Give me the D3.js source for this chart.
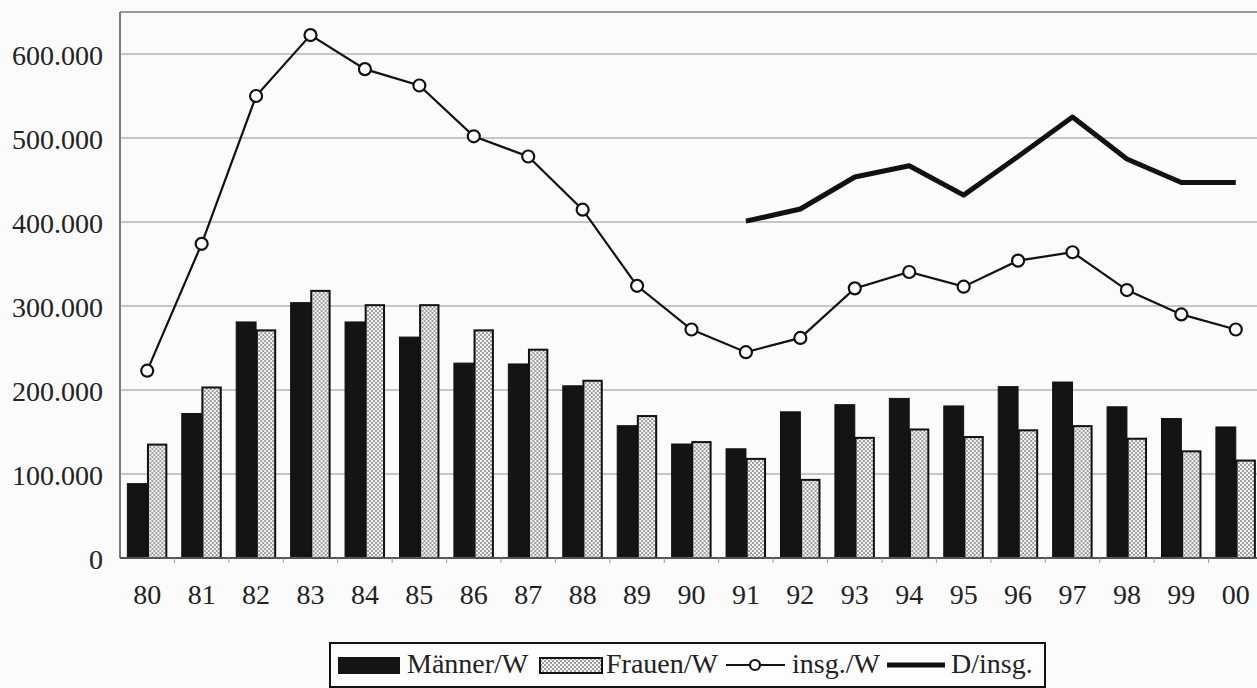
<!DOCTYPE html>
<html>
<head>
<meta charset="utf-8">
<script src="https://cdn.jsdelivr.net/npm/d3@7"></script>
<style>
  html, body { margin: 0; padding: 0; background: #fbfbfb; }
  svg { display: block; }
  text { font-family: "Liberation Serif", "Times New Roman", serif; fill: #222; }
</style>
</head>
<body>
<svg id="chart" width="1257" height="688"></svg>
<script>
const years = ["80","81","82","83","84","85","86","87","88","89","90","91","92","93","94","95","96","97","98","99","00"];
const maenner = [88500,172000,281000,304000,281000,263000,232000,231000,205000,157500,135700,130000,174000,182500,190000,181000,204000,209500,180000,166000,156000];
const frauen  = [135000,203000,271000,318000,301000,301000,271000,248000,211000,169000,138000,118000,93000,143000,153000,144000,152000,157000,142000,127000,116000];
const insgW   = [223000,374000,550000,622500,582000,562500,502000,478000,414700,324000,272000,245000,262000,321000,340500,323000,354000,364000,319000,290000,272000];
const dInsg   = [null,null,null,null,null,null,null,null,null,null,null,401000,415500,453600,467000,432000,478000,525000,475000,447000,447000];
const yTicks  = [0,100000,200000,300000,400000,500000,600000];
const seriesNames = ["Männer/W","Frauen/W","insg./W","D/insg."];

const svg = d3.select("#chart");
const margin = {left: 120, top: 12, right: -6, bottom: 130};
const W = 1257, H = 688;
const x0 = margin.left, x1 = W - margin.right, yTop = margin.top, yBase = 558;

const defs = svg.append("defs");
const pat = defs.append("pattern").attr("id","dots").attr("patternUnits","userSpaceOnUse")
  .attr("width",4).attr("height",4);
pat.append("rect").attr("width",4).attr("height",4).attr("fill","#f4f4f4");
pat.append("circle").attr("cx",1).attr("cy",1).attr("r",0.95).attr("fill","#7a7a7a");
pat.append("circle").attr("cx",3).attr("cy",3).attr("r",0.95).attr("fill","#7a7a7a");

const x = d3.scaleBand().domain(years).range([x0, x1]).paddingInner(0.27).paddingOuter(0.135);
const xs = d3.scaleBand().domain(["m","f"]).range([0, x.bandwidth()]);
const y = d3.scaleLinear().domain([0, 650000]).range([yBase, yTop]);

const loc = d3.formatLocale({decimal: ",", thousands: ".", grouping: [3], currency: ["", " €"]});
const fmt = loc.format(",d");

// gridlines
svg.append("g").selectAll("line").data(yTicks.filter(d => d > 0)).join("line")
  .attr("x1", x0).attr("x2", x1).attr("y1", d => y(d)).attr("y2", d => y(d))
  .attr("stroke", "#b4b4b4").attr("stroke-width", 1.5);
// top border
svg.append("line").attr("x1", x0).attr("x2", x1).attr("y1", yTop).attr("y2", yTop)
  .attr("stroke", "#9a9a9a").attr("stroke-width", 2);

// y axis
const yAxis = svg.append("g").attr("transform", `translate(${x0},0)`)
  .call(d3.axisLeft(y).tickValues(yTicks).tickFormat(fmt).tickSize(0).tickPadding(17));
yAxis.select(".domain").remove();
yAxis.selectAll("text").style("font-size", "28px").attr("dy", "0.36em")
  .style("font-family", "'Liberation Serif', serif").attr("fill", "#2a2a2a");
svg.append("line").attr("x1", x0).attr("x2", x0).attr("y1", yTop).attr("y2", yBase)
  .attr("stroke", "#7a7a7a").attr("stroke-width", 2);

// bars
const groups = svg.append("g").selectAll("g").data(years).join("g")
  .attr("transform", d => `translate(${x(d)},0)`);
groups.append("rect")
  .attr("x", xs("m")).attr("width", xs.bandwidth())
  .attr("y", (d,i) => y(maenner[i])).attr("height", (d,i) => yBase - y(maenner[i]))
  .attr("fill", "#141414").attr("stroke", "#111").attr("stroke-width", 1);
groups.append("rect")
  .attr("x", xs("f") + 0.75).attr("width", xs.bandwidth() - 1.5)
  .attr("y", (d,i) => y(frauen[i])).attr("height", (d,i) => yBase - y(frauen[i]))
  .attr("fill", "url(#dots)").attr("stroke", "#111").attr("stroke-width", 2);

// x axis baseline & ticks
svg.append("line").attr("x1", x0).attr("x2", x1).attr("y1", yBase).attr("y2", yBase)
  .attr("stroke", "#555").attr("stroke-width", 2);
const step = x.step();
svg.append("g").selectAll("line").data(years.slice(1)).join("line")
  .attr("x1", d => x(d) - step * x.paddingInner() / 2).attr("x2", d => x(d) - step * x.paddingInner() / 2)
  .attr("y1", yBase).attr("y2", yBase + 5).attr("stroke", "#999").attr("stroke-width", 1);
const xAxis = svg.append("g").attr("transform", `translate(0,${yBase})`)
  .call(d3.axisBottom(x).tickSize(0).tickPadding(26));
xAxis.select(".domain").remove();
xAxis.selectAll("text").style("font-size", "28px")
  .style("font-family", "'Liberation Serif', serif").attr("fill", "#2a2a2a");

// lines
const cx = i => x(years[i]) + x.bandwidth() / 2;
const lineW = d3.line().x((d,i) => cx(i)).y(d => y(d));
svg.append("path").datum(insgW).attr("d", lineW)
  .attr("fill", "none").attr("stroke", "#111").attr("stroke-width", 2.2);
svg.append("g").selectAll("circle").data(insgW).join("circle")
  .attr("cx", (d,i) => cx(i)).attr("cy", d => y(d)).attr("r", 6)
  .attr("fill", "#fff").attr("stroke", "#111").attr("stroke-width", 2.2);
const lineD = d3.line().defined(d => d !== null).x((d,i) => cx(i)).y(d => y(d));
svg.append("path").datum(dInsg).attr("d", lineD)
  .attr("fill", "none").attr("stroke", "#111").attr("stroke-width", 5).attr("stroke-linejoin", "round");

// legend
const lg = svg.append("g");
lg.append("rect").attr("x", 330).attr("y", 643).attr("width", 715).attr("height", 44)
  .attr("fill", "#fdfdfd").attr("stroke", "#111").attr("stroke-width", 2);
const ty = 673;
lg.append("rect").attr("x", 338).attr("y", 657).attr("width", 62).attr("height", 17).attr("fill", "#141414");
lg.append("text").attr("x", 407).attr("y", ty).text(seriesNames[0]).style("font-size", "28px");
lg.append("rect").attr("x", 540).attr("y", 658).attr("width", 62).attr("height", 15)
  .attr("fill", "url(#dots)").attr("stroke", "#111").attr("stroke-width", 2);
lg.append("text").attr("x", 606).attr("y", ty).text(seriesNames[1]).style("font-size", "28px");
lg.append("line").attr("x1", 726).attr("x2", 785).attr("y1", 665).attr("y2", 665)
  .attr("stroke", "#111").attr("stroke-width", 2.2);
lg.append("circle").attr("cx", 755).attr("cy", 665).attr("r", 5)
  .attr("fill", "#fff").attr("stroke", "#111").attr("stroke-width", 2.2);
lg.append("text").attr("x", 792).attr("y", ty).text(seriesNames[2]).style("font-size", "28px");
lg.append("line").attr("x1", 887).attr("x2", 945).attr("y1", 665).attr("y2", 665)
  .attr("stroke", "#111").attr("stroke-width", 5);
lg.append("text").attr("x", 951).attr("y", ty).text(seriesNames[3]).style("font-size", "28px");
</script>
</body>
</html>
